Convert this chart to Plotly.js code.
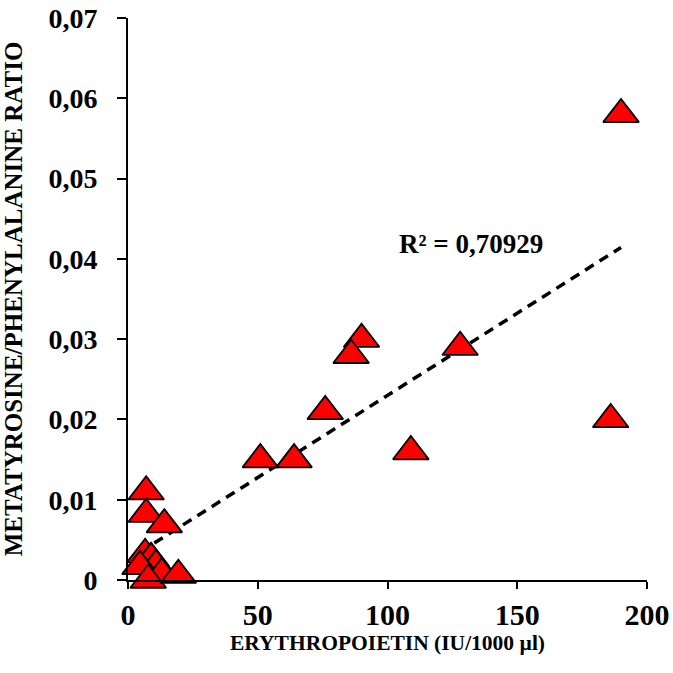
<!DOCTYPE html>
<html>
<head>
<meta charset="utf-8">
<script src="https://cdn.plot.ly/plotly-3.0.1.min.js"></script>
<style>
  html, body { margin: 0; padding: 0; background: #fff; }
  #epoPlot { width: 673px; height: 673px; }
</style>
</head>
<body>
<div id="epoPlot"></div>
<script>
// erythropoietin (IU/1000 µl) vs metatyrosine/phenylalanine ratio
let epo = [190, 186, 128, 109, 90, 86, 76, 64, 51, 7, 7, 14, 6.6, 8.9, 10.8, 4.6, 13, 7.8, 19.4];
let ratio = [0.058, 0.020, 0.029, 0.016, 0.030, 0.028, 0.021, 0.015, 0.015, 0.011, 0.0082, 0.0069,
  0.0032, 0.0027, 0.0018, 0.0017, 0.0008, 0.0, 0.0006];

let yTicks = [0, 0.01, 0.02, 0.03, 0.04, 0.05, 0.06, 0.07];
let yTickText = ["0", "0,01", "0,02", "0,03", "0,04", "0,05", "0,06", "0,07"];
let xTicks = [0, 50, 100, 150, 200];

let r2Label = "R² = 0,70929";

// least squares fit for the trend line
var fitLine = function (xs, ys) {
  let n = xs.length;
  let mx = xs.reduce((a, b) => a + b, 0) / n;
  let my = ys.reduce((a, b) => a + b, 0) / n;
  let sxy = 0, sxx = 0;
  for (let i = 0; i < n; i++) {
    sxy += (xs[i] - mx) * (ys[i] - my);
    sxx += (xs[i] - mx) * (xs[i] - mx);
  }
  let b = sxy / sxx;
  return { slope: b, icpt: my - b * mx };
};

var cb_epoPlot = function () {
  let fit = fitLine(epo, ratio);
  let xmin = Math.min(...epo);
  let xmax = Math.max(...epo);

  let trend = {
    x: [xmin, xmax],
    y: [fit.icpt + fit.slope * xmin, fit.icpt + fit.slope * xmax],
    mode: "lines",
    line: { color: "#000", width: 3.5, dash: "10px,7px" },
    hoverinfo: "skip",
    showlegend: false,
    type: "scatter",
  };

  let points = {
    x: epo,
    y: ratio,
    mode: "markers",
    marker: {
      symbol: "triangle-up",
      size: 31,
      color: "#ff0000",
      line: { color: "#000", width: 1.8 },
    },
    cliponaxis: false,
    showlegend: false,
    type: "scatter",
  };

  let tnr = "'Liberation Serif', 'Times New Roman', serif";

  let layout = {
    width: 673,
    height: 673,
    margin: { l: 128, r: 26, t: 18, b: 93 },
    paper_bgcolor: "#fff",
    plot_bgcolor: "#fff",
    showlegend: false,
    font: { family: tnr, color: "#000" },
    xaxis: {
      range: [0, 200],
      tickvals: xTicks,
      ticks: "outside",
      ticklen: 7,
      tickwidth: 2,
      tickcolor: "#000",
      showline: true,
      linecolor: "#000",
      linewidth: 2,
      showgrid: false,
      zeroline: false,
      ticklabeloverflow: "allow",
      tickfont: { family: tnr, size: 30, weight: "bold" },
      title: {
        text: "ERYTHROPOIETIN (IU/1000 µl)",
        font: { family: tnr, size: 21.5, weight: "bold" },
        standoff: 0,
      },
    },
    yaxis: {
      range: [0, 0.07001],
      tickvals: yTicks,
      ticktext: yTickText,
      ticks: "outside",
      ticklen: 9,
      tickwidth: 2,
      tickcolor: "#000",
      showline: true,
      linecolor: "#000",
      linewidth: 2,
      showgrid: false,
      zeroline: false,
      ticklabeloverflow: "allow",
      tickfont: { family: tnr, size: 28, weight: "bold" },
      ticklabelstandoff: 14,
      title: {
        text: "METATYROSINE/PHENYLALANINE RATIO",
        font: { family: tnr, size: 25, weight: "bold" },
        standoff: 23,
      },
    },
    annotations: [
      {
        x: 132.3,
        y: 0.0418,
        xref: "x",
        yref: "y",
        text: r2Label,
        showarrow: false,
        font: { family: tnr, size: 27, weight: "bold", color: "#000" },
      },
    ],
  };

  let config = { displayModeBar: false, staticPlot: true };

  Plotly.newPlot("epoPlot", [trend, points], layout, config);
};

cb_epoPlot();
</script>
</body>
</html>
